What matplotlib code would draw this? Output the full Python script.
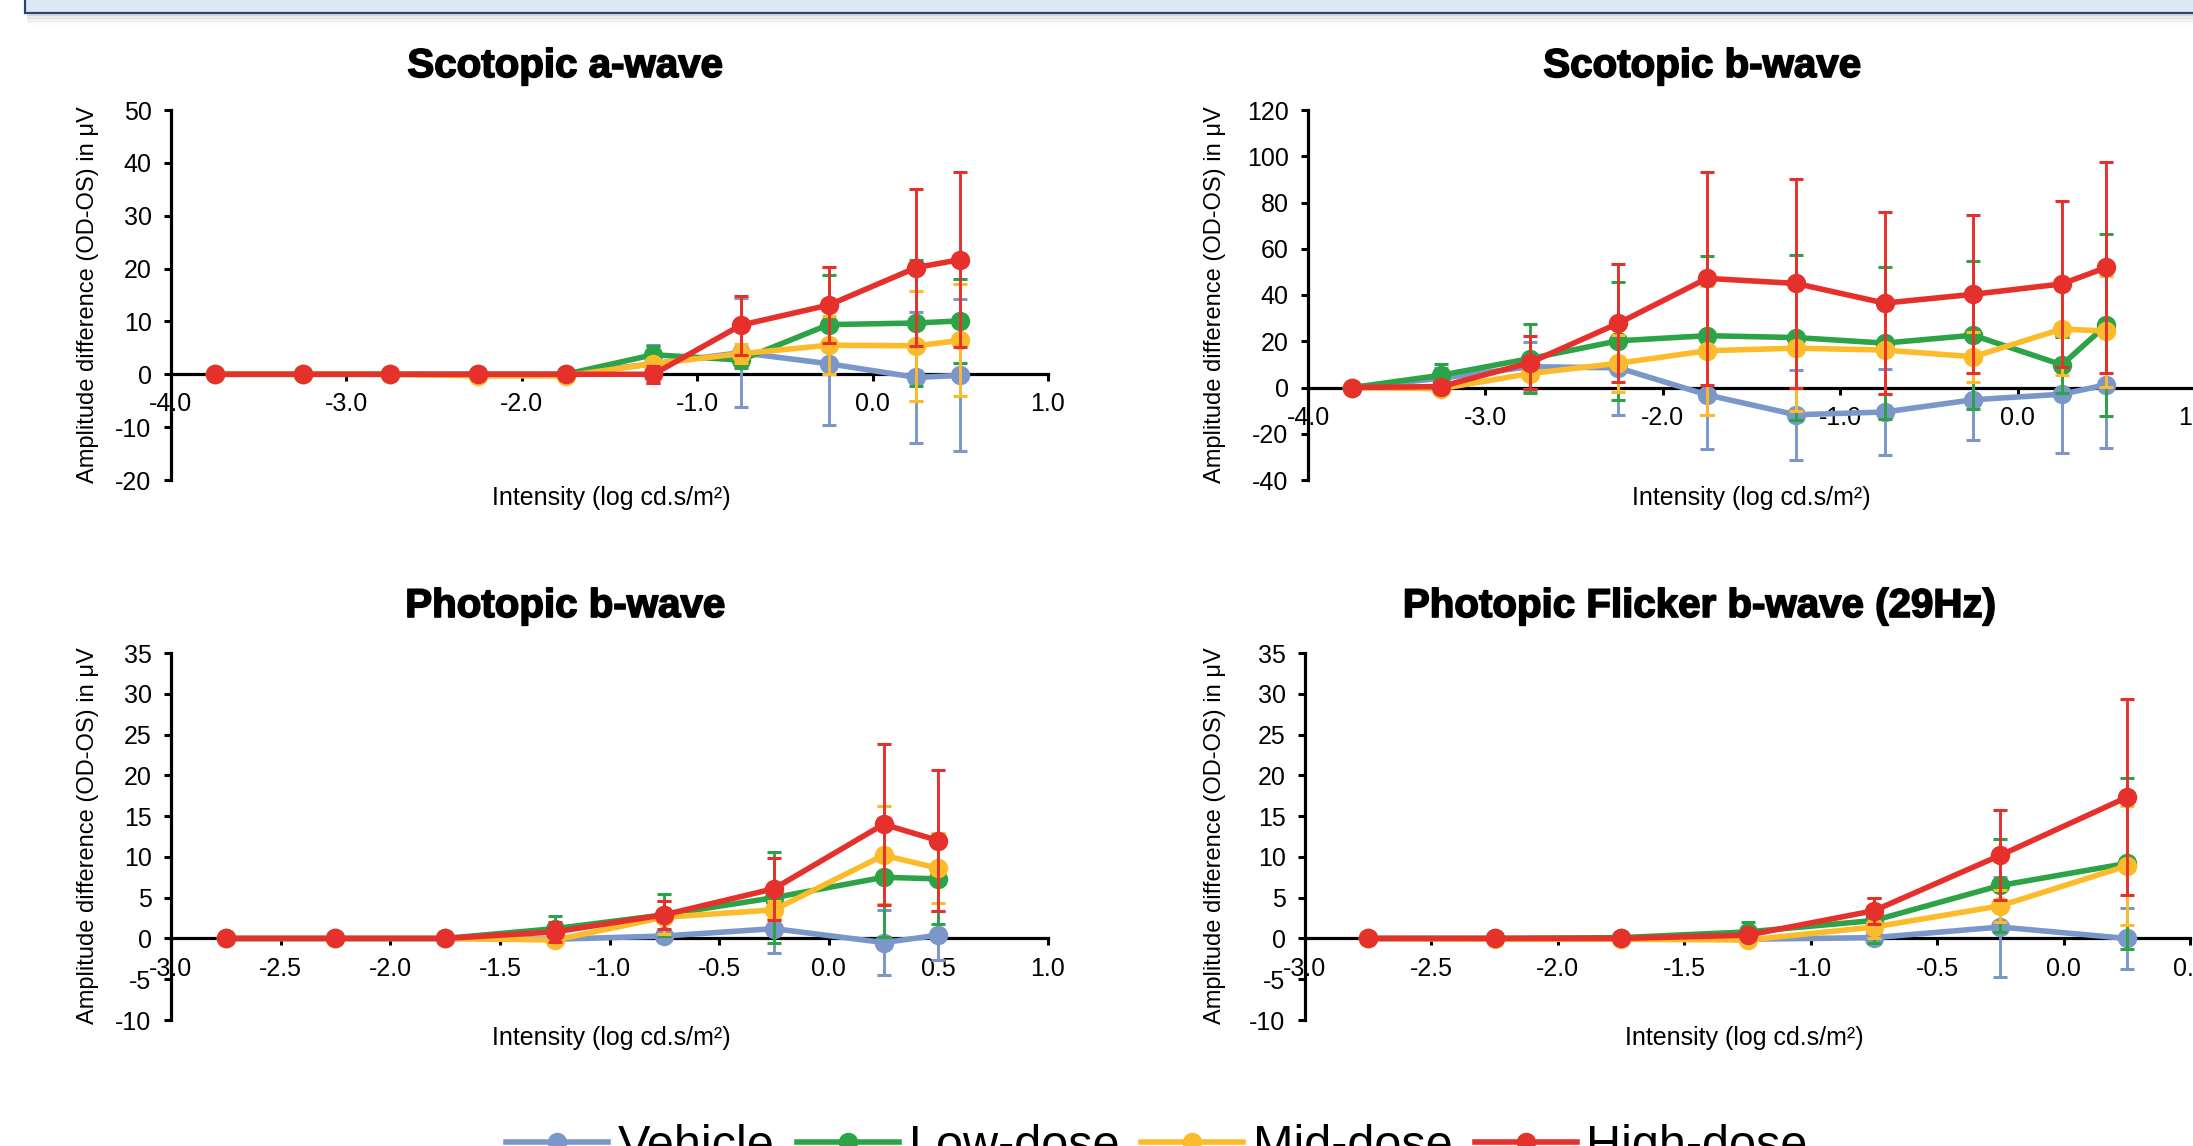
#!/usr/bin/env python3
"""ERG amplitude difference (OD-OS) versus flash intensity for four dose groups.

Four panels (scotopic a/b-wave, photopic b-wave, photopic flicker) with
mean +/- SD error bars, laid out like the original slide figure.
"""
import matplotlib
matplotlib.use("Agg")
import matplotlib.pyplot as plt
import matplotlib.patheffects as pe
import numpy as np
from matplotlib.patches import Rectangle
from matplotlib.ticker import FormatStrFormatter

plt.rcParams["font.family"] = ["Liberation Sans", "DejaVu Sans"]

GROUPS = ["Vehicle", "Low-dose", "Mid-dose", "High-dose"]
COLORS = ["#7b97c9", "#2ca346", "#fcbb2b", "#e6302b"]

# intensities (log cd.s/m2)
x_scot = [-3.75, -3.25, -2.75, -2.25, -1.75, -1.25, -0.75, -0.25, 0.25, 0.5]
x_phot = [-2.75, -2.25, -1.75, -1.25, -0.75, -0.25, 0.25, 0.5]
x_flick = [-2.75, -2.25, -1.75, -1.25, -0.75, -0.25, 0.25]

# Scotopic a-wave, mean and SD per group
a_vehicle = [0, 0, 0, 0, 0, 2.0, 4.1, 2.0, -0.6, -0.2]
a_vehicle_sd = [0, 0, 0, 0, 0, 3.6, 10.3, 11.5, 12.4, 14.4]
a_low = [0, 0, 0, 0, 0, 3.7, 2.7, 9.4, 9.7, 10.1]
a_low_sd = [0, 0, 0, 0, 0, 1.6, 1.6, 9.3, 12.0, 8.0]
a_mid = [0, 0, 0, -0.3, -0.3, 2.0, 3.9, 5.5, 5.4, 6.4]
a_mid_sd = [0, 0, 0, 0, 0, 0.5, 1.8, 5.5, 10.4, 10.6]
a_high = [0, 0, 0, 0, 0, 0, 9.3, 13.1, 20.2, 21.7]
a_high_sd = [0, 0, 0, 0, 0, 1.6, 5.6, 7.2, 14.8, 16.5]

# Scotopic b-wave
b_vehicle = [0, 4.0, 9.0, 8.5, -3.2, -11.8, -10.6, -5.3, -2.9, 1.2]
b_vehicle_sd = [0, 4.3, 10.5, 20.4, 23.3, 19.5, 18.8, 17.3, 25.3, 27.4]
b_low = [0, 5.3, 12.5, 20.2, 22.4, 21.6, 19.2, 22.6, 9.8, 27.0]
b_low_sd = [0, 4.7, 15.0, 25.4, 34.5, 35.5, 32.8, 32.0, 12.0, 39.5]
b_mid = [0, -0.5, 6.0, 10.5, 15.9, 17.0, 16.2, 13.3, 25.3, 24.4]
b_mid_sd = [0, 1.0, 6.5, 12.3, 28.0, 27.0, 19.0, 10.8, 19.8, 24.0]
b_high = [0, 0.4, 10.7, 27.8, 47.2, 45.0, 36.5, 40.3, 44.8, 51.9]
b_high_sd = [0, 1.0, 11.5, 25.5, 46.0, 45.0, 39.3, 34.2, 35.8, 45.7]

# Photopic b-wave
p_vehicle = [0, 0, 0, -0.1, 0.3, 1.2, -0.5, 0.4]
p_vehicle_sd = [0, 0, 0, 0, 0.4, 3.0, 4.0, 3.0]
p_low = [0, 0, 0, 1.2, 2.9, 5.0, 7.5, 7.3]
p_low_sd = [0, 0, 0, 1.6, 2.6, 5.6, 7.3, 5.5]
p_mid = [0, 0, 0, -0.2, 2.6, 3.5, 10.2, 8.6]
p_mid_sd = [0, 0, 0, 0, 2.0, 1.1, 6.0, 4.3]
p_high = [0, 0, 0, 0.8, 2.9, 6.1, 14.0, 12.0]
p_high_sd = [0, 0, 0, 1.2, 1.7, 3.8, 9.9, 8.6]

# Photopic flicker b-wave (29Hz)
f_vehicle = [0, 0, 0, -0.1, 0.1, 1.4, 0.0]
f_vehicle_sd = [0, 0, 0, 0, 0.5, 6.1, 3.7]
f_low = [0, 0, 0.1, 0.8, 2.2, 6.5, 9.2]
f_low_sd = [0, 0, 0, 1.2, 2.8, 5.7, 10.5]
f_mid = [0, -0.1, -0.1, -0.2, 1.4, 4.0, 8.9]
f_mid_sd = [0, 0, 0, 0, 1.4, 2.0, 7.3]
f_high = [0, 0, 0, 0.4, 3.4, 10.2, 17.3]
f_high_sd = [0, 0, 0, 0.3, 1.6, 5.5, 12.0]

W, H = 2193, 1146
XLABEL = "Intensity (log cd.s/m\u00b2)"
YLABEL = "Amplitude difference (OD-OS) in \u03bcV"


def px_box(left, top, right, bottom):
    return [left / W, 1 - bottom / H, (right - left) / W, (bottom - top) / H]


def draw_panel(fig, box, x, means, sds, xlim, xstep, ylim, ystep):
    ax = fig.add_axes(box)
    ax.patch.set_alpha(0)
    handles = []
    for i, (y, e, c) in enumerate(zip(means, sds, COLORS)):
        ax.errorbar(x, y, yerr=e, fmt="none", ecolor=c, elinewidth=2.1,
                    capsize=5, capthick=2.2, zorder=3 + i, clip_on=False)
        h, = ax.plot(x, y, color=c, lw=4, marker="o", ms=13, mec=c,
                     zorder=3.5 + i, label=GROUPS[i], clip_on=False)
        handles.append(h)

    ax.set_xlim(*xlim)
    ax.set_ylim(*ylim)
    ax.set_xticks(np.arange(xlim[0], xlim[1] + 1e-9, xstep))
    ax.set_yticks(np.arange(ylim[0], ylim[1] + 1e-9, ystep))
    ax.xaxis.set_major_formatter(FormatStrFormatter("%.1f"))
    ax.yaxis.set_major_formatter(FormatStrFormatter("%d"))

    for side in ("top", "right"):
        ax.spines[side].set_visible(False)
    ax.spines["bottom"].set_position(("data", 0))
    for side in ("left", "bottom"):
        ax.spines[side].set_linewidth(2.3)
        ax.spines[side].set_zorder(2)
    ax.tick_params(axis="both", direction="out", length=5, width=2.2,
                   labelsize=18, colors="black")
    ax.tick_params(axis="x", pad=8)
    ax.tick_params(axis="y", pad=9)
    return ax, handles


def add_banner(fig):
    # drop shadow under the slide header box
    for k in range(8):
        fig.add_artist(Rectangle((27 / W, 1 - (14 + k * 1.5) / H), 1.0, 1.5 / H,
                                 transform=fig.transFigure, facecolor="#808080",
                                 alpha=0.22 * (1 - k / 8), edgecolor="none"))
    fig.add_artist(Rectangle((25 / W, 1 - 13 / H), 1.0, 40 / H,
                             transform=fig.transFigure, facecolor="#dce8f5",
                             edgecolor="#26466f", linewidth=1.6, clip_on=False))


def main() -> None:
    fig = plt.figure(figsize=(W / 100, H / 100), dpi=100)
    fig.patch.set_facecolor("white")
    add_banner(fig)

    panels = [
        ("Scotopic a-wave", px_box(171, 110, 1048, 480), x_scot,
         [a_vehicle, a_low, a_mid, a_high], [a_vehicle_sd, a_low_sd, a_mid_sd, a_high_sd],
         (-4.0, 1.0), 1.0, (-20, 50), 10, (565, 66), (611, 498), (88, 295)),
        ("Scotopic b-wave", px_box(1308, 110, 2195, 480), x_scot,
         [b_vehicle, b_low, b_mid, b_high], [b_vehicle_sd, b_low_sd, b_mid_sd, b_high_sd],
         (-4.0, 1.0), 1.0, (-40, 120), 20, (1702, 66), (1751, 498), (1215, 295)),
        ("Photopic b-wave", px_box(171, 653, 1048, 1020), x_phot,
         [p_vehicle, p_low, p_mid, p_high], [p_vehicle_sd, p_low_sd, p_mid_sd, p_high_sd],
         (-3.0, 1.0), 0.5, (-10, 35), 5, (565, 606), (611, 1038), (88, 836)),
        ("Photopic Flicker b-wave (29Hz)", px_box(1305, 653, 2190, 1020), x_flick,
         [f_vehicle, f_low, f_mid, f_high], [f_vehicle_sd, f_low_sd, f_mid_sd, f_high_sd],
         (-3.0, 0.5), 0.5, (-10, 35), 5, (1699, 606), (1744, 1038), (1215, 836)),
    ]

    handles = None
    heavy = [pe.withStroke(linewidth=1.2, foreground="black")]
    for title, box, x, means, sds, xlim, xstep, ylim, ystep, tpos, xlpos, ylpos in panels:
        ax, h = draw_panel(fig, box, x, means, sds, xlim, xstep, ylim, ystep)
        handles = handles or h
        fig.text(tpos[0] / W, 1 - tpos[1] / H, title, ha="center", va="center",
                 fontsize=29, fontweight="bold", path_effects=heavy)
        fig.text(xlpos[0] / W, 1 - xlpos[1] / H, XLABEL, ha="center", va="center",
                 fontsize=18)
        fig.text(ylpos[0] / W, 1 - ylpos[1] / H, YLABEL, ha="center", va="center",
                 rotation=90, fontsize=17)

    fig.legend(handles, GROUPS, loc="upper center", bbox_to_anchor=(1157 / W, 1 - 1124 / H),
               ncol=4, frameon=False, fontsize=35, handlelength=2.1, handletextpad=0.2,
               columnspacing=0.45, borderpad=0, borderaxespad=0)

    fig.savefig("out.png", dpi=100)
    plt.close(fig)


if __name__ == "__main__":
    main()
